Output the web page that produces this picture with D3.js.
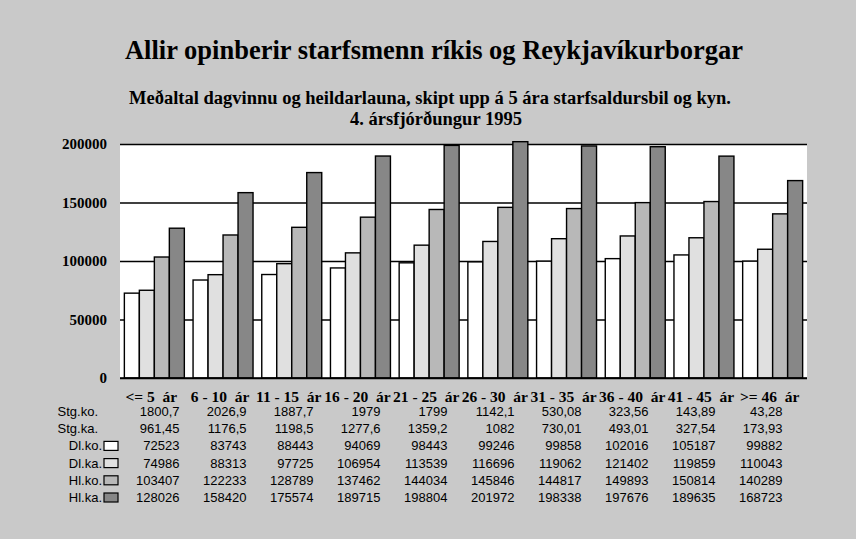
<!DOCTYPE html>
<html>
<head>
<meta charset="utf-8">
<script src="https://cdn.jsdelivr.net/npm/d3@7"></script>
<style>
  html, body { margin: 0; padding: 0; background: #c9c9c9; }
  svg { display: block; }
</style>
</head>
<body>
<svg id="chart" width="856" height="539"></svg>
<script>
// ---- data ----
const categories = ["<= 5  ár", "6 - 10  ár", "11 - 15  ár", "16 - 20  ár", "21 - 25  ár",
                    "26 - 30  ár", "31 - 35  ár", "36 - 40  ár", "41 - 45  ár", ">= 46  ár"];
const stgKo = [1800.7, 2026.9, 1887.7, 1979, 1799, 1142.1, 530.08, 323.56, 143.89, 43.28];
const stgKa = [961.45, 1176.5, 1198.5, 1277.6, 1359.2, 1082, 730.01, 493.01, 327.54, 173.93];
const dlKo = [72523, 83743, 88443, 94069, 98443, 99246, 99858, 102016, 105187, 99882];
const dlKa = [74986, 88313, 97725, 106954, 113539, 116696, 119062, 121402, 119859, 110043];
const hlKo = [103407, 122233, 128789, 137462, 144034, 145846, 144817, 149893, 150814, 140289];
const hlKa = [128026, 158420, 175574, 189715, 198804, 201972, 198338, 197676, 189635, 168723];
const yTicks = [0, 50000, 100000, 150000, 200000];
const seriesNames = ["Dl.ko.", "Dl.ka.", "Hl.ko.", "Hl.ka."];
const seriesValues = [dlKo, dlKa, hlKo, hlKa];
const seriesColors = ["#ffffff", "#e0e0e0", "#b8b8b8", "#878787"];
const tableRows = [
  { label: "Stg.ko.", values: stgKo, key: null },
  { label: "Stg.ka.", values: stgKa, key: null },
  { label: "Dl.ko.", values: dlKo, key: 0 },
  { label: "Dl.ka.", values: dlKa, key: 1 },
  { label: "Hl.ko.", values: hlKo, key: 2 },
  { label: "Hl.ka.", values: hlKa, key: 3 }
];

const svg = d3.select("#chart");
const W = 856, H = 539;
const plot = { left: 120, right: 807, top: 144, bottom: 378 };
const serif = "'Liberation Serif', 'Times New Roman', serif";
const sans = "'Liberation Sans', Arial, sans-serif";

svg.append("rect").attr("width", W).attr("height", H).attr("fill", "#c9c9c9");

// titles
svg.append("text").attr("x", 434).attr("y", 59).attr("text-anchor", "middle")
  .attr("font-family", serif).attr("font-weight", "bold").attr("font-size", 26.5)
  .text("Allir opinberir starfsmenn ríkis og Reykjavíkurborgar");
svg.append("text").attr("x", 430).attr("y", 104).attr("text-anchor", "middle")
  .attr("font-family", serif).attr("font-weight", "bold").attr("font-size", 18.5)
  .text("Meðaltal dagvinnu og heildarlauna, skipt upp á 5 ára starfsaldursbil og kyn.");
svg.append("text").attr("x", 436).attr("y", 125).attr("text-anchor", "middle")
  .attr("font-family", serif).attr("font-weight", "bold").attr("font-size", 18.5)
  .text("4. ársfjórðungur 1995");

// scales
const y = d3.scaleLinear().domain([0, 200000]).range([plot.bottom, plot.top]);
const x0 = d3.scaleBand().domain(categories).range([plot.left, plot.right])
  .paddingInner(0.127).paddingOuter(0.0635);
const x1 = d3.scaleBand().domain(d3.range(4)).range([0, x0.bandwidth()]);

// plot background
svg.append("rect").attr("x", plot.left).attr("y", plot.top)
  .attr("width", plot.right - plot.left).attr("height", plot.bottom - plot.top)
  .attr("fill", "#ffffff");

// y axis with gridlines
const yAxis = d3.axisLeft(y).tickValues(yTicks).tickSize(-(plot.right - plot.left))
  .tickPadding(13).tickFormat(d3.format("d"));
const ga = svg.append("g").attr("transform", `translate(${plot.left},0)`).call(yAxis);
ga.select(".domain").remove();
ga.selectAll(".tick line").attr("stroke", "#000").attr("stroke-width", 1.5);
ga.selectAll(".tick text").attr("font-family", serif).attr("font-weight", "bold")
  .attr("font-size", 15).attr("fill", "#000");

// bars
const groups = svg.append("g").selectAll("g").data(categories).join("g")
  .attr("transform", d => `translate(${x0(d)},0)`);
groups.selectAll("rect").data((d, i) => seriesValues.map((s, k) => ({ k, v: s[i] })))
  .join("rect")
  .attr("x", d => x1(d.k)).attr("width", x1.bandwidth())
  .attr("y", d => y(d.v)).attr("height", d => y(0) - y(d.v))
  .attr("fill", d => seriesColors[d.k]).attr("stroke", "#000").attr("stroke-width", 1.4);

// x axis baseline
const xAxis = d3.axisBottom(x0).tickSize(0).tickPadding(0);
const gx = svg.append("g").attr("transform", `translate(0,${plot.bottom})`).call(xAxis);
gx.select(".domain").attr("stroke", "#000").attr("stroke-width", 1.5)
  .attr("d", `M${plot.left},0H${plot.right}`);
gx.selectAll(".tick text").remove();

// category labels (centred under each bar group)
svg.append("g").selectAll("text").data(categories).join("text")
  .attr("x", d => x0(d) + x0.bandwidth() / 2 - 3).attr("y", 402)
  .attr("text-anchor", "middle").attr("font-family", serif).attr("font-weight", "bold")
  .attr("font-size", 15.5).attr("xml:space", "preserve").style("white-space", "pre")
  .text(d => d);

// table columns
const tx = d3.scaleBand().domain(categories).range([122, 792]);
const fmt = v => String(v).replace(".", ",");

const rowY = i => 416 + i * 17.2;
tableRows.forEach((row, r) => {
  const g = svg.append("g");
  const labelRight = row.key === null ? 98 : 102;
  g.append("text").attr("x", labelRight).attr("y", rowY(r)).attr("text-anchor", "end")
    .attr("font-family", sans).attr("font-size", 13).text(row.label);
  if (row.key !== null) {
    g.append("rect").attr("x", 104).attr("y", rowY(r) - 9).attr("width", 14).attr("height", 9)
      .attr("fill", seriesColors[row.key]).attr("stroke", "#000").attr("stroke-width", 1.2);
  }
  g.selectAll("text.v").data(row.values).join("text").attr("class", "v")
    .attr("x", (d, i) => tx(categories[i]) + tx.bandwidth() / 2 + 24).attr("y", rowY(r))
    .attr("text-anchor", "end").attr("font-family", sans).attr("font-size", 13)
    .text(d => fmt(d));
});
</script>
</body>
</html>
